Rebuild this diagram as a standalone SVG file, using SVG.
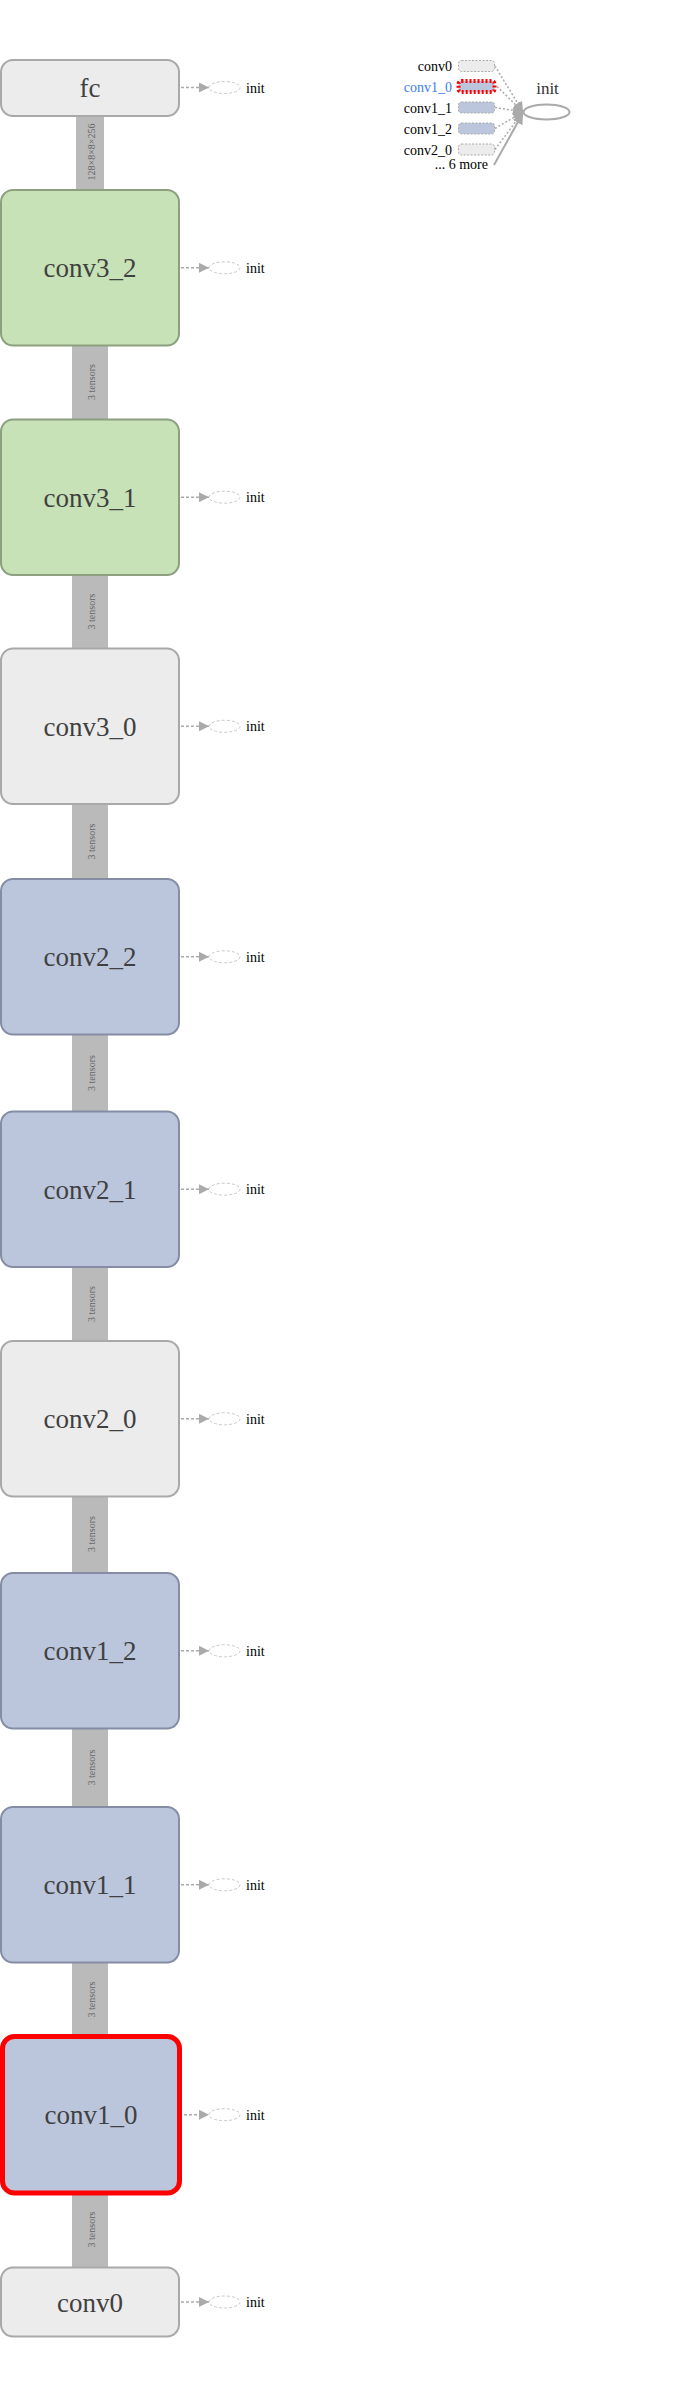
<svg xmlns="http://www.w3.org/2000/svg" width="690" height="2399" viewBox="0 0 690 2399">
<style>
.node rect{stroke-width:2}
.gray rect{fill:#ececec;stroke:#a9a9a9}
.green rect{fill:#c6e2b6;stroke:#8ca080}
.blue rect{fill:#bbc6dd;stroke:#848da3}
.lbl{font-family:"Liberation Serif",serif;font-size:27px;fill:#404040;text-anchor:middle}
.edge{fill:#bababa}
.elbl{font-family:"Liberation Serif",serif;font-size:10px;fill:#666;text-anchor:middle;dominant-baseline:central}
.iline{stroke:#aaa;stroke-width:1.5;stroke-dasharray:3,2;fill:none}
.iell{fill:none;stroke:#c8c8c8;stroke-width:1;stroke-dasharray:3,2}
.itxt{font-family:"Liberation Serif",serif;font-size:14px;fill:#000}
.lg{font-family:"Liberation Serif",serif;font-size:14px;fill:#000;text-anchor:end}
.lrect{stroke:#aaa;stroke-width:1;stroke-dasharray:2,1.5}
.ldot{stroke:#aaa;stroke-width:1.5;stroke-dasharray:2,2;fill:none}
</style>
<defs>
<marker id="arr" viewBox="0 0 10 10" refX="10" refY="5" markerWidth="10" markerHeight="10" markerUnits="userSpaceOnUse" orient="auto">
<path d="M0,0 L10,5 L0,10 z" fill="#aaa"/>
</marker>
<marker id="arrL" viewBox="0 0 10 10" refX="10" refY="5" markerWidth="11" markerHeight="11" markerUnits="userSpaceOnUse" orient="auto">
<path d="M0,0 L10,5 L0,10 z" fill="#aaa"/>
</marker>
</defs>
<rect width="690" height="2399" fill="#fff"/>

<g id="connectors">
<rect class="edge" x="76" y="115" width="28" height="76"/>
<text class="elbl" transform="translate(91,152) rotate(-90)">128×8×8×256</text>
<rect class="edge" x="72" y="344" width="36" height="77"/>
<text class="elbl" transform="translate(91,382) rotate(-90)">3 tensors</text>
<rect class="edge" x="72" y="574" width="36" height="76"/>
<text class="elbl" transform="translate(91,611.5) rotate(-90)">3 tensors</text>
<rect class="edge" x="72" y="803" width="36" height="77"/>
<text class="elbl" transform="translate(91,841.5) rotate(-90)">3 tensors</text>
<rect class="edge" x="72" y="1033" width="36" height="80"/>
<text class="elbl" transform="translate(91,1073) rotate(-90)">3 tensors</text>
<rect class="edge" x="72" y="1266" width="36" height="76"/>
<text class="elbl" transform="translate(91,1304) rotate(-90)">3 tensors</text>
<rect class="edge" x="72" y="1495" width="36" height="79"/>
<text class="elbl" transform="translate(91,1534) rotate(-90)">3 tensors</text>
<rect class="edge" x="72" y="1727" width="36" height="81"/>
<text class="elbl" transform="translate(91,1767.5) rotate(-90)">3 tensors</text>
<rect class="edge" x="72" y="1961" width="36" height="76"/>
<text class="elbl" transform="translate(91,1999.5) rotate(-90)">3 tensors</text>
<rect class="edge" x="72" y="2191" width="36" height="77"/>
<text class="elbl" transform="translate(91,2229.5) rotate(-90)">3 tensors</text>

<g id="init-arrows">
<path class="iline" d="M181,87.5 H209" marker-end="url(#arr)"/>
<path class="iline" d="M181,267.8 H209" marker-end="url(#arr)"/>
<path class="iline" d="M181,497.2 H209" marker-end="url(#arr)"/>
<path class="iline" d="M181,726.3 H209" marker-end="url(#arr)"/>
<path class="iline" d="M181,956.8 H209" marker-end="url(#arr)"/>
<path class="iline" d="M181,1189.2 H209" marker-end="url(#arr)"/>
<path class="iline" d="M181,1418.8 H209" marker-end="url(#arr)"/>
<path class="iline" d="M181,1650.8 H209" marker-end="url(#arr)"/>
<path class="iline" d="M181,1884.8 H209" marker-end="url(#arr)"/>
<path class="iline" d="M184,2114.7 H209" marker-end="url(#arr)"/>
<path class="iline" d="M181,2302 H209" marker-end="url(#arr)"/>
</g>
</g>

<g id="fc" class="node gray"><rect x="1" y="60" width="178" height="56" rx="12"/><text class="lbl" x="90" y="97">fc</text></g>
<g id="conv3_2" class="node green"><rect x="1" y="190" width="178" height="155.5" rx="12"/><text class="lbl" x="90" y="277">conv3_2</text></g>
<g id="conv3_1" class="node green"><rect x="1" y="419.5" width="178" height="155.5" rx="12"/><text class="lbl" x="90" y="506.5">conv3_1</text></g>
<g id="conv3_0" class="node gray"><rect x="1" y="648.5" width="178" height="155.5" rx="12"/><text class="lbl" x="90" y="735.5">conv3_0</text></g>
<g id="conv2_2" class="node blue"><rect x="1" y="879" width="178" height="155.5" rx="12"/><text class="lbl" x="90" y="966">conv2_2</text></g>
<g id="conv2_1" class="node blue"><rect x="1" y="1111.5" width="178" height="155.5" rx="12"/><text class="lbl" x="90" y="1198.5">conv2_1</text></g>
<g id="conv2_0" class="node gray"><rect x="1" y="1341" width="178" height="155.5" rx="12"/><text class="lbl" x="90" y="1428">conv2_0</text></g>
<g id="conv1_2" class="node blue"><rect x="1" y="1573" width="178" height="155.5" rx="12"/><text class="lbl" x="90" y="1660">conv1_2</text></g>
<g id="conv1_1" class="node blue"><rect x="1" y="1807" width="178" height="155.5" rx="12"/><text class="lbl" x="90" y="1894">conv1_1</text></g>
<g id="conv1_0" class="node blue"><rect x="2.5" y="2036.5" width="177" height="156.5" rx="12" style="stroke:#ff0000;stroke-width:5"/><text class="lbl" x="91" y="2124">conv1_0</text></g>
<g id="conv0" class="node gray"><rect x="1" y="2267.5" width="178" height="69" rx="12"/><text class="lbl" x="90" y="2311.5">conv0</text></g>

<g id="init-nodes">
<ellipse class="iell" cx="224.5" cy="87.5" rx="15.5" ry="6"/><text class="itxt" x="246" y="92.5">init</text>
<ellipse class="iell" cx="224.5" cy="267.8" rx="15.5" ry="6"/><text class="itxt" x="246" y="272.8">init</text>
<ellipse class="iell" cx="224.5" cy="497.2" rx="15.5" ry="6"/><text class="itxt" x="246" y="502.2">init</text>
<ellipse class="iell" cx="224.5" cy="726.3" rx="15.5" ry="6"/><text class="itxt" x="246" y="731.3">init</text>
<ellipse class="iell" cx="224.5" cy="956.8" rx="15.5" ry="6"/><text class="itxt" x="246" y="961.8">init</text>
<ellipse class="iell" cx="224.5" cy="1189.2" rx="15.5" ry="6"/><text class="itxt" x="246" y="1194.2">init</text>
<ellipse class="iell" cx="224.5" cy="1418.8" rx="15.5" ry="6"/><text class="itxt" x="246" y="1423.8">init</text>
<ellipse class="iell" cx="224.5" cy="1650.8" rx="15.5" ry="6"/><text class="itxt" x="246" y="1655.8">init</text>
<ellipse class="iell" cx="224.5" cy="1884.8" rx="15.5" ry="6"/><text class="itxt" x="246" y="1889.8">init</text>
<ellipse class="iell" cx="224.5" cy="2114.7" rx="15.5" ry="6"/><text class="itxt" x="246" y="2119.7">init</text>
<ellipse class="iell" cx="224.5" cy="2302" rx="15.5" ry="6"/><text class="itxt" x="246" y="2307">init</text>
</g>

<g id="init-legend">
<g id="legend-lines">
<path class="ldot" d="M495,66 L523,112" marker-end="url(#arr)"/>
<path class="ldot" d="M497,86.5 L523,112" marker-end="url(#arr)"/>
<path class="ldot" d="M495,107.5 L523,112" marker-end="url(#arr)"/>
<path class="ldot" d="M495,128.5 L523,112" marker-end="url(#arr)"/>
<path class="ldot" d="M495,149.5 L523,112" marker-end="url(#arr)"/>
<path d="M494,165 L523,113" stroke="#aaa" stroke-width="2" fill="none" marker-end="url(#arrL)"/>
</g>
<rect class="lrect" x="458.5" y="60.5" width="36" height="11" rx="3" fill="#ececec"/>
<rect x="458.5" y="81" width="36" height="11" rx="3" fill="#bbc6dd" stroke="#ff0000" stroke-width="4" stroke-dasharray="2,2"/>
<rect class="lrect" x="458.5" y="102" width="36" height="11" rx="3" fill="#bbc6dd"/>
<rect class="lrect" x="458.5" y="123" width="36" height="11" rx="3" fill="#bbc6dd"/>
<rect class="lrect" x="458.5" y="144" width="36" height="11" rx="3" fill="#ececec"/>
<text class="lg" x="452" y="71">conv0</text>
<text class="lg" x="452" y="91.5" style="fill:#3b7ee8">conv1_0</text>
<text class="lg" x="452" y="112.5">conv1_1</text>
<text class="lg" x="452" y="133.5">conv1_2</text>
<text class="lg" x="452" y="154.5">conv2_0</text>
<text class="lg" x="488" y="169">... 6 more</text>
<ellipse cx="546.5" cy="112" rx="23" ry="7.5" fill="none" stroke="#aaa" stroke-width="2"/>
<text x="547.5" y="94" font-family="'Liberation Serif',serif" font-size="17" text-anchor="middle" fill="#333">init</text>
</g>
</svg>
